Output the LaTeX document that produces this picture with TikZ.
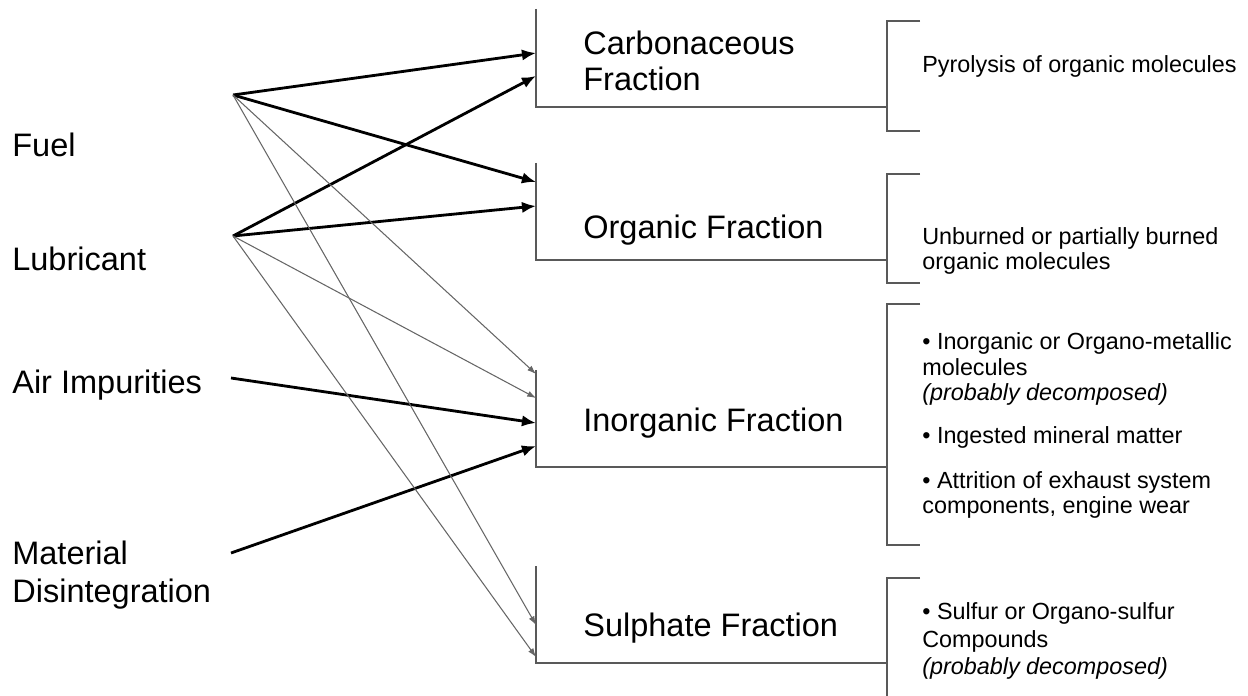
\documentclass[tikz,border=0pt]{standalone}
\usepackage{fontspec}
\setmainfont{Liberation Sans}
\usetikzlibrary{arrows.meta}

\tikzset{
  source/.style={anchor=west, inner sep=0pt, align=left, font=\fontsize{18.5}{21.5}\selectfont},
  fraction/.style={anchor=west, inner sep=0pt, align=left, font=\fontsize{18.5}{20.5}\selectfont},
  note/.style={anchor=west, inner sep=0pt, align=left, font=\fontsize{13.3}{14.5}\selectfont},
  frame/.style={draw=black!65, line width=0.6pt},
  bigarrow/.style={draw, line width=1.6pt, -{Latex[length=8pt,width=6.5pt]}},
  smallarrow/.style={draw, draw=black!60, line width=0.6pt, -{Latex[length=5pt,width=3.5pt]}}
}

\begin{document}
\begin{tikzpicture}[x=0.02cm, y=-0.02cm]
  \useasboundingbox (0,0) rectangle (1248,696);

  % where the particles come from
  \begin{scope}[every node/.style={source}]
    \node (fuel)  at (12,145) {Fuel};
    \node (lube)  at (12,259) {Lubricant};
    \node (air)   at (12,385) {Air Impurities};
    \node (mat)   at (12,575) {Material\\Disintegration};
  \end{scope}

  \coordinate (fuelout) at (233,95);
  \coordinate (lubeout) at (233,236);
  \coordinate (airout)  at (231,378);
  \coordinate (matout)  at (231,553);

  % the four fractions
  \begin{scope}[every node/.style={fraction}]
    \node (carb) at (583,61)  {Carbonaceous\\Fraction};
    \node (org)  at (583,230) {Organic Fraction};
    \node (inorg) at (583,423) {Inorganic Fraction};
    \node (sulph) at (583,628) {Sulphate Fraction};
  \end{scope}

  \draw[frame] (536,9)   |- (887,107);
  \draw[frame] (536,163) |- (887,260);
  \draw[frame] (536,370) |- (887,467);
  \draw[frame] (536,566) |- (887,663);

  \draw[frame] (920,21)  -| (887,131) -- (920,131);
  \draw[frame] (920,174) -| (887,283) -- (920,283);
  \draw[frame] (920,304) -| (887,545) -- (920,545);
  \draw[frame] (920,578) -| (887,696);

  % what they are made of
  \begin{scope}[every node/.style={note}]
    \node (pyro)  at (922,66)  {Pyrolysis of organic molecules};
    \node (unb)   at (922,251) {Unburned or partially burned\\organic molecules};
    \node (inorg1) at (922,369) {• Inorganic or Organo-metallic\\molecules\\\textit{(probably decomposed)}};
    \node (inorg2) at (922,437) {• Ingested mineral matter};
    \node (inorg3) at (922,495) {• Attrition of exhaust system\\components, engine wear};
    \node[font=\fontsize{13.3}{15.6}\selectfont] (sulf) at (922,641) {• Sulfur or Organo-sulfur\\Compounds\\\textit{(probably decomposed)}};
  \end{scope}

  % arrow ends on the fraction boxes
  \coordinate (carbin1) at (536,53);
  \coordinate (carbin2) at (536,76);
  \coordinate (orgin1)  at (536,182);
  \coordinate (orgin2)  at (536,206);
  \coordinate (inin1)   at (536,374);
  \coordinate (inin2)   at (536,398);
  \coordinate (inin3)   at (536,423);
  \coordinate (inin4)   at (536,446);
  \coordinate (sulin1)  at (536,625);
  \coordinate (sulin2)  at (536,657);

  \begin{scope}[every edge/.style={bigarrow}]
    \path (fuelout) edge (carbin1);
    \path (lubeout) edge (carbin2);
    \path (fuelout) edge (orgin1);
    \path (lubeout) edge (orgin2);
    \path (airout)  edge (inin3);
    \path (matout)  edge (inin4);
  \end{scope}

  \begin{scope}[every edge/.style={smallarrow}]
    \path (fuelout) edge (inin1);
    \path (lubeout) edge (inin2);
    \path (fuelout) edge (sulin1);
    \path (lubeout) edge (sulin2);
  \end{scope}

\end{tikzpicture}
\end{document}
